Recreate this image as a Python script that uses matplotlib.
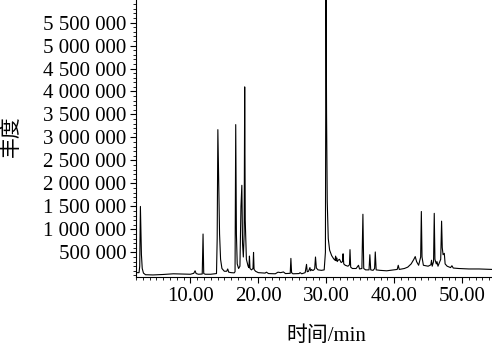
import numpy as np
import matplotlib.pyplot as plt
from matplotlib.ticker import MultipleLocator, FuncFormatter

plt.rcParams['font.family'] = ['Liberation Serif', 'Noto Sans CJK SC']

# chromatogram trace, time in min, abundance in thousands
t_a = [2.05, 2.45, 2.55, 2.65, 2.72, 2.80, 2.92, 3.10, 3.40]
y_a = [60, 60, 200, 1500, 1000, 450, 150, 50, 15]

t_b = [4.5, 6.0, 7.5, 9.0, 10.0, 10.5, 10.7, 10.85, 11.2, 11.75, 11.87, 11.97, 12.2]
y_b = [10, 20, 35, 30, 25, 45, 100, 40, 25, 30, 900, 40, 25]

t_c = [13.0, 13.85, 13.95, 14.05, 14.15, 14.3, 14.45, 14.65, 15.0, 15.35, 15.5, 15.65, 16.0, 16.45]
y_c = [25, 40, 800, 3170, 2200, 900, 350, 150, 90, 90, 140, 70, 60, 55]

t_d = [16.58, 16.68, 16.78, 16.9, 17.1, 17.3, 17.45, 17.58, 17.68, 17.8, 17.92, 18.0, 18.08, 18.25, 18.5]
y_d = [80, 3280, 900, 250, 150, 200, 1500, 1960, 700, 400, 900, 4100, 1200, 350, 200]

t_e = [18.62, 18.7, 18.78, 19.0, 19.22, 19.3, 19.38, 19.6, 20.0, 21.0,
       21.2, 21.5, 22.5, 22.9, 23.3, 23.7, 24.0, 24.7, 24.8, 24.9,
       25.1, 26.0, 26.15, 26.4, 26.9, 27.1, 27.2, 27.4, 27.6, 27.7,
       27.85, 27.95, 28.1, 28.3, 28.42, 28.55, 28.8, 29.3, 29.7]
y_e = [170, 420, 150, 120, 150, 500, 130, 90, 60, 50,
       70, 40, 35, 70, 60, 75, 40, 45, 370, 60,
       35, 40, 60, 35, 60, 240, 80, 90, 170, 100,
       130, 110, 110, 140, 400, 160, 120, 110, 120]

t_f = [29.88, 29.97, 30.05, 30.15, 30.3, 30.5, 30.8, 31.1, 31.3, 31.38,
       31.45, 31.55, 31.62, 31.75, 31.95, 32.2, 32.4, 32.48, 32.58, 32.8,
       33.2, 33.42, 33.5, 33.6, 33.85, 34.4, 34.75, 34.9, 35.25, 35.4,
       35.52, 35.8, 36.3, 36.42, 36.55, 36.9, 37.12, 37.22, 37.35, 37.9, 38.9]
y_f = [500, 6500, 3500, 1600, 800, 550, 430, 360, 330, 420,
       320, 380, 300, 330, 350, 280, 300, 470, 250, 220,
       200, 230, 560, 180, 150, 150, 220, 140, 150, 1330,
       150, 120, 120, 450, 120, 110, 150, 510, 120, 110, 100]

t_g = [40.0, 40.45, 40.6, 40.75, 41.5, 42.0, 42.5, 42.9, 43.1, 43.3,
       43.6, 43.9, 44.0, 44.1, 44.3, 45.0, 45.4, 45.5, 45.6, 45.8,
       45.9, 46.0, 46.2, 46.3, 46.45, 46.85, 46.98, 47.08, 47.2, 47.38,
       47.5, 47.8, 48.3, 48.5, 48.7, 49.5, 51.0, 52.5, 54.4]
y_g = [120, 130, 220, 130, 150, 180, 250, 350, 410, 300,
       220, 400, 1390, 400, 220, 200, 230, 330, 200, 300,
       1350, 350, 250, 300, 200, 350, 1180, 600, 450, 480,
       250, 200, 170, 210, 160, 150, 140, 140, 130]

time_min = np.array(t_a + t_b + t_c + t_d + t_e + t_f + t_g)
abundance = np.array(y_a + y_b + y_c + y_d + y_e + y_f + y_g) * 1000

fig = plt.figure(figsize=(4.92, 3.51), dpi=100)
ax = fig.add_axes([0.2764, 0.2108, 0.7236, 0.7892])

ax.plot(time_min, abundance, color='black', lw=0.8)

ax.set_xlim(2.0, 54.4)
ax.set_ylim(-35000, 5990000)

ax.xaxis.set_major_locator(MultipleLocator(10))
ax.xaxis.set_minor_locator(MultipleLocator(1))
ax.xaxis.set_major_formatter(FuncFormatter(lambda v, p: f"{v:.2f}"))
ax.set_yticks(np.arange(500000, 5600000, 500000))
ax.yaxis.set_minor_locator(MultipleLocator(100000))
ax.yaxis.set_major_formatter(FuncFormatter(lambda v, p: f"{v:,.0f}".replace(",", " ")))

ax.tick_params(axis='both', which='major', labelsize=15, length=4, width=0.8, direction='out', pad=3)
ax.tick_params(axis='both', which='minor', length=2, width=0.6, direction='out')

for s in ['top', 'right']:
    ax.spines[s].set_visible(False)
for s in ['left', 'bottom']:
    ax.spines[s].set_linewidth(0.8)

ax.set_xlabel('时间/min', fontsize=15)
ax.xaxis.set_label_coords(0.536, -0.18)
ax.set_ylabel('丰度', fontsize=15)
ax.yaxis.set_label_coords(-0.32, 0.51)

fig.savefig('out.png', dpi=100)
